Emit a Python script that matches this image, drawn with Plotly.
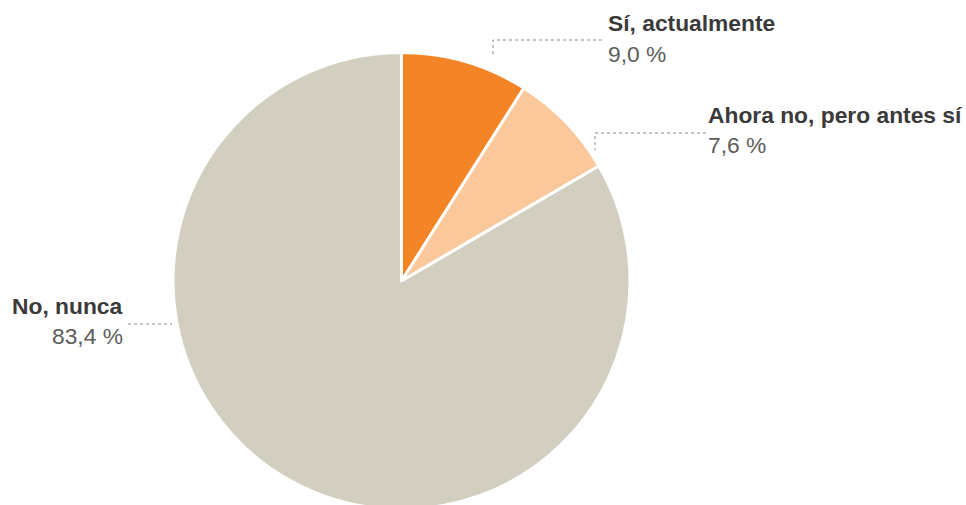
import plotly.graph_objects as go

# Data
categories = ["Sí, actualmente", "Ahora no, pero antes sí", "No, nunca"]
values = [9.0, 7.6, 83.4]
value_labels = ["9,0 %", "7,6 %", "83,4 %"]
colors = ["#F48526", "#FBC89B", "#D2CFC0"]

W, H = 966, 512  # slightly taller than the window so the pie runs off the bottom
cx, cy, r = 401.5, 281, 228.5  # pie centre / radius in pixels

fig = go.Figure()
fig.add_trace(go.Pie(
    labels=categories,
    values=values,
    sort=False,
    direction="clockwise",
    rotation=0,
    textinfo="none",
    hoverinfo="label+percent",
    showlegend=False,
    marker=dict(colors=colors, line=dict(color="white", width=3)),
    domain=dict(x=[(cx - r) / W, (cx + r) / W],
                y=[(H - (cy + r)) / H, (H - (cy - r)) / H]),
))

# Label layout (pixel positions of label anchors and leader lines)
label_pos = [
    dict(x=606, y_label=23, y_value=54, anchor="left"),
    dict(x=706, y_label=115, y_value=145, anchor="left"),
    dict(x=125, y_label=306, y_value=336, anchor="right"),
]
leaders = [
    [(602, 40), (493, 40), (493, 55)],
    [(706, 133), (595, 133), (595, 150)],
    [(128, 324), (172, 324)],
]

font_family = "Liberation Sans, Arial, Helvetica, sans-serif"
annotations = []
for cat, val, p in zip(categories, value_labels, label_pos):
    annotations.append(dict(x=p["x"], y=p["y_label"], xref="x", yref="y",
                            text="<b>" + cat + "</b>", showarrow=False,
                            xanchor=p["anchor"], yanchor="middle",
                            font=dict(family=font_family, size=22.8, color="#3a3a3a")))
    annotations.append(dict(x=p["x"], y=p["y_value"], xref="x", yref="y",
                            text=val, showarrow=False,
                            xanchor=p["anchor"], yanchor="middle",
                            font=dict(family=font_family, size=22.8, color="#5c5c5c")))

shapes = []
for pts in leaders:
    path = "M " + " L ".join(f"{x},{y}" for x, y in pts)
    shapes.append(dict(type="path", path=path, xref="x", yref="y",
                       line=dict(color="#8a8a8a", width=1, dash="dot")))

fig.update_layout(
    width=W, height=H,
    margin=dict(l=0, r=0, t=0, b=0),
    paper_bgcolor="white", plot_bgcolor="rgba(0,0,0,0)",
    xaxis=dict(range=[0, W], visible=False, domain=[0, 1], fixedrange=True),
    yaxis=dict(range=[H, 0], visible=False, domain=[0, 1], fixedrange=True),
    annotations=annotations,
    shapes=shapes,
)

fig.write_html(
    "out.html",
    config={"displayModeBar": False},
    post_script="document.documentElement.style.overflow='hidden';"
                "document.body.style.margin='0';document.body.style.overflow='hidden';",
)
